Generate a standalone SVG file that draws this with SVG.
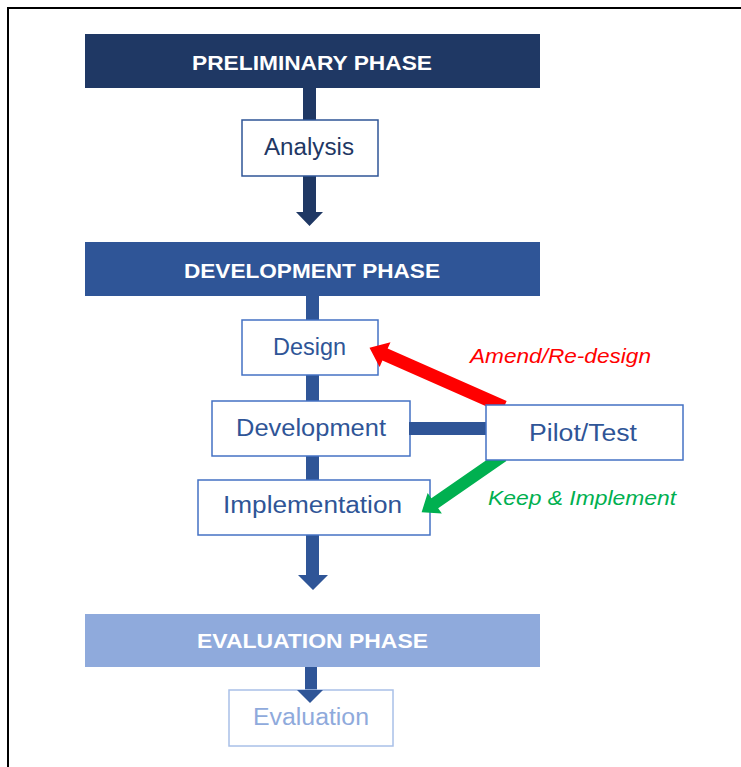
<svg xmlns="http://www.w3.org/2000/svg" width="741" height="767" viewBox="0 0 741 767">
  <defs>
    <style>
      .phase text { font-family: "Liberation Sans", Arial, sans-serif; font-weight: bold; font-size: 21px; fill: #ffffff; }
      .box rect { fill: #ffffff; stroke-width: 1.5; }
      .box text { font-family: "Liberation Sans", Arial, sans-serif; font-size: 23px; }
      .lbl { font-family: "Liberation Sans", Arial, sans-serif; font-style: italic; font-size: 21px; }
    </style>
  </defs>

  <rect width="741" height="767" fill="#ffffff"/>
  <!-- outer frame -->
  <path d="M8,767 V8 H741" fill="none" stroke="#000000" stroke-width="2"/>

  <!-- phase spines and arrows -->
  <g id="spines">
    <!-- preliminary -> development -->
    <polygon points="303,88 316,88 316,212 323,212 309.5,226 296,212 303,212" fill="#1F3864"/>
    <!-- development spine -> evaluation -->
    <polygon points="306,296 319,296 319,575 328,575 313,590 298,575 306,575" fill="#2F5597"/>
    <!-- evaluation phase -> evaluation -->
    <polygon points="305,667 317,667 317,690 323,690 310,703 297,690 305,690" fill="#2F5597"/>
  </g>

  <!-- phases -->
  <g id="preliminary" class="phase">
    <rect x="85" y="34" width="455" height="54" fill="#1F3864"/>
    <text x="312" y="70" text-anchor="middle" textLength="240" lengthAdjust="spacingAndGlyphs">PRELIMINARY PHASE</text>
  </g>
  <g id="development-phase" class="phase">
    <rect x="85" y="242" width="455" height="54" fill="#2F5597"/>
    <text x="312" y="278" text-anchor="middle" textLength="256" lengthAdjust="spacingAndGlyphs">DEVELOPMENT PHASE</text>
  </g>
  <g id="evaluation-phase" class="phase">
    <rect x="85" y="614" width="455" height="53" fill="#8FAADC"/>
    <text x="312.5" y="648" text-anchor="middle" textLength="231" lengthAdjust="spacingAndGlyphs">EVALUATION PHASE</text>
  </g>

  <!-- steps -->
  <g id="analysis" class="box">
    <rect x="242" y="120" width="136" height="56" stroke="#2F5597"/>
    <text x="309" y="155" text-anchor="middle" fill="#1F3864" textLength="90" lengthAdjust="spacingAndGlyphs">Analysis</text>
  </g>
  <g id="design" class="box">
    <rect x="242" y="320" width="136" height="55" stroke="#4472C4"/>
    <text x="309.5" y="355" text-anchor="middle" fill="#2F5597" textLength="73" lengthAdjust="spacingAndGlyphs">Design</text>
  </g>
  <g id="development" class="box">
    <rect x="212" y="401" width="198" height="55" stroke="#4472C4"/>
    <text x="311" y="436" text-anchor="middle" fill="#2F5597" textLength="150" lengthAdjust="spacingAndGlyphs">Development</text>
  </g>
  <g id="implementation" class="box">
    <rect x="198" y="480" width="232" height="55" stroke="#4472C4"/>
    <text x="312.5" y="513" text-anchor="middle" fill="#2F5597" textLength="179" lengthAdjust="spacingAndGlyphs">Implementation</text>
  </g>
  <g id="evaluation" class="box">
    <rect x="229" y="690" width="164" height="56" stroke="#A9C0E8"/>
    <text x="311" y="725" text-anchor="middle" fill="#8FAADC" textLength="116" lengthAdjust="spacingAndGlyphs">Evaluation</text>
  </g>
  <!-- evaluation arrowhead sits over the box edge -->
  <polygon points="297,690 323,690 310,703" fill="#2F5597"/>

  <!-- connectors from pilot/test; tails tuck under the pilot box -->
  <g id="connectors">
    <!-- development -> pilot/test -->
    <rect x="409" y="422" width="78" height="13" fill="#2F5597"/>
    <!-- pilot/test -> design (amend) -->
    <g transform="translate(504,407) rotate(203.8)">
      <polygon points="0,-6.5 130,-6.5 130,-13.5 147,0 130,13.5 130,6.5 0,6.5" fill="#FF0000"/>
    </g>
    <!-- pilot/test -> implementation (keep) -->
    <g transform="translate(503,456) rotate(145.3)">
      <polygon points="0,-6 83,-6 83,-12.5 99,0 83,12.5 83,6 0,6" fill="#00B050"/>
    </g>
  </g>

  <g id="pilot-test" class="box">
    <rect x="486" y="405" width="197" height="55" stroke="#4472C4"/>
    <text x="583" y="441" text-anchor="middle" fill="#2F5597" textLength="108" lengthAdjust="spacingAndGlyphs">Pilot/Test</text>
  </g>

  <!-- arrow labels -->
  <text class="lbl" x="470" y="363" fill="#FF0000" textLength="181" lengthAdjust="spacingAndGlyphs">Amend/Re-design</text>
  <text class="lbl" x="488" y="505" fill="#00B050" textLength="188" lengthAdjust="spacingAndGlyphs">Keep &amp; Implement</text>
</svg>
